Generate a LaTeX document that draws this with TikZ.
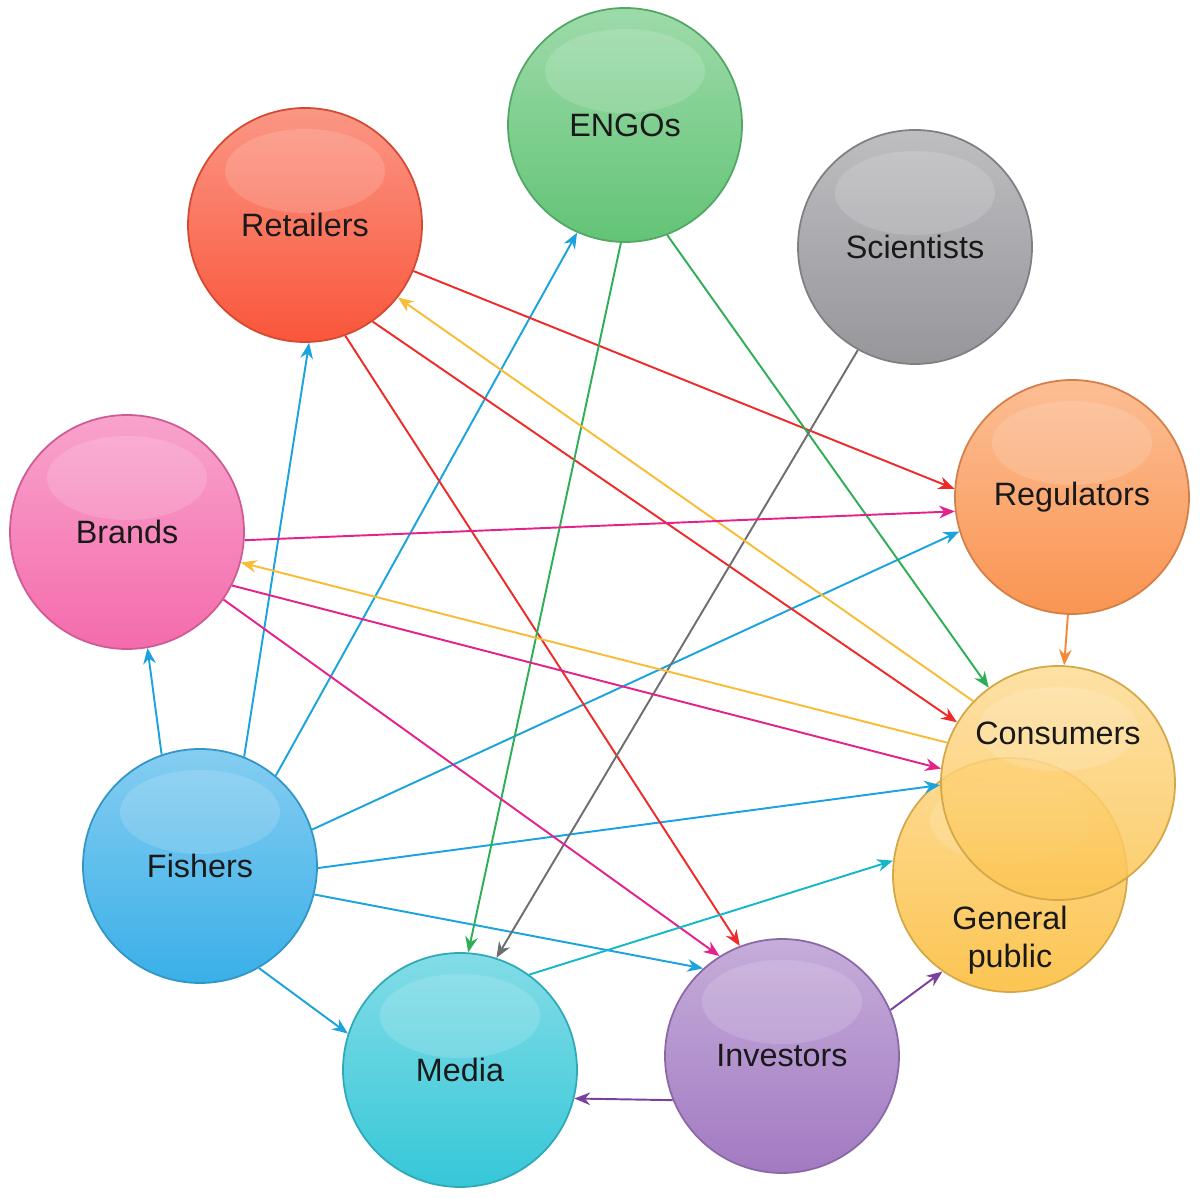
\documentclass[tikz,border=0pt]{standalone}
\usepackage{fontspec}
\setmainfont{Liberation Sans}
\usepackage{xcolor}
\usetikzlibrary{arrows.meta}

% circle colours
\definecolor{engoC}{HTML}{62C476}
\definecolor{retC}{HTML}{F9563A}
\definecolor{sciC}{HTML}{96969B}
\definecolor{braC}{HTML}{F46BAC}
\definecolor{regC}{HTML}{FA9552}
\definecolor{conC}{HTML}{FCC553}
\definecolor{fisC}{HTML}{3AAFE8}
\definecolor{medC}{HTML}{36C7D8}
\definecolor{invC}{HTML}{A27AC2}
% arrow colours
\definecolor{fisA}{HTML}{1AA3DD}
\definecolor{retA}{HTML}{EE2A2A}
\definecolor{engA}{HTML}{2EAF55}
\definecolor{sciA}{HTML}{6E6E6E}
\definecolor{conA}{HTML}{F9BC36}
\definecolor{braA}{HTML}{E4228C}
\definecolor{regA}{HTML}{F5893A}
\definecolor{medA}{HTML}{17B7CA}
\definecolor{invA}{HTML}{7B3F9E}

\tikzset{
  actor/.style={circle, minimum size=2.34cm, inner sep=0pt,
    top color=#1!62!white, bottom color=#1, draw=#1!85!black, line width=0.5pt,
    text=black!90, font=\fontsize{9.2}{11}\selectfont, align=center,
    path picture={\fill[white, opacity=.15] ([yshift=0.54cm]path picture bounding box.center) ellipse (0.8cm and 0.42cm);}},
  actortext/.style={align=center, font=\fontsize{9.2}{11}\selectfont, text=black!90},
  link/.style={draw=#1, -{Stealth[length=4.5pt, width=3.6pt]}, line width=0.55pt}
}

\begin{document}
\begin{tikzpicture}
    \useasboundingbox (0,0) rectangle (12,11.97);

    % Actors
    \node[actor=engoC] (eng) at (6.25,10.72) {ENGOs};
    \node[actor=retC] (ret) at (3.05,9.72) {Retailers};
    \node[actor=sciC] (sci) at (9.15,9.50) {Scientists};
    \node[actor=braC] (bra) at (1.27,6.65) {Brands};
    \node[actor=regC] (reg) at (10.72,7.00) {Regulators};
    \node[actor=conC, label={[actortext, yshift=-0.65cm]center:General\\public}] (gen) at (10.10,3.22) {};
    \node[actor=conC, fill opacity=0.85, label={[actortext, yshift=0.5cm]center:Consumers}] (con) at (10.58,4.14) {};
    \node[actor=fisC] (fis) at (2.00,3.31) {Fishers};
    \node[actor=medC] (med) at (4.60,1.27) {Media};
    \node[actor=invC] (inv) at (7.82,1.41) {Investors};

    % Fishers
    \draw[link=fisA] (fis.109) -- (bra.280);
    \draw[link=fisA] (fis.68) -- (ret.272);
    \draw[link=fisA] (fis.50) -- (eng.246);
    \draw[link=fisA] (fis.18) -- (reg.197);
    \draw[link=fisA] (fis.-1) -- (con.181);
    \draw[link=fisA] (fis.-14) -- (inv.132);
    \draw[link=fisA] (fis.-60) -- (med.162);

    % Retailers
    \draw[link=retA] (ret.-23) -- (reg.176);
    \draw[link=retA] (ret.-55) -- (con.149);
    \draw[link=retA] (ret.-70) -- (inv.111);

    % ENGOs and Scientists
    \draw[link=engA] (eng.268) -- (med.86);
    \draw[link=engA] (eng.-69) -- (con.126);
    \draw[link=sciA] (sci.241) -- (med.72);

    % Consumers
    \draw[link=conA] (con.136) -- (ret.322);
    \draw[link=conA] (con.160) -- (bra.345);

    % Brands
    \draw[link=braA] (bra.356) -- (reg.187);
    \draw[link=braA] (bra.333) -- (con.173);
    \draw[link=braA] (bra.325) -- (inv.122);

    % Regulators, Media, Investors
    \draw[link=regA] (reg.268) -- (con.87);
    \draw[link=medA] (med.54) -- (gen.173);
    \draw[link=invA] (inv.23) -- (gen.235);
    \draw[link=invA] (inv.202) -- (med.346);
\end{tikzpicture}
\end{document}
